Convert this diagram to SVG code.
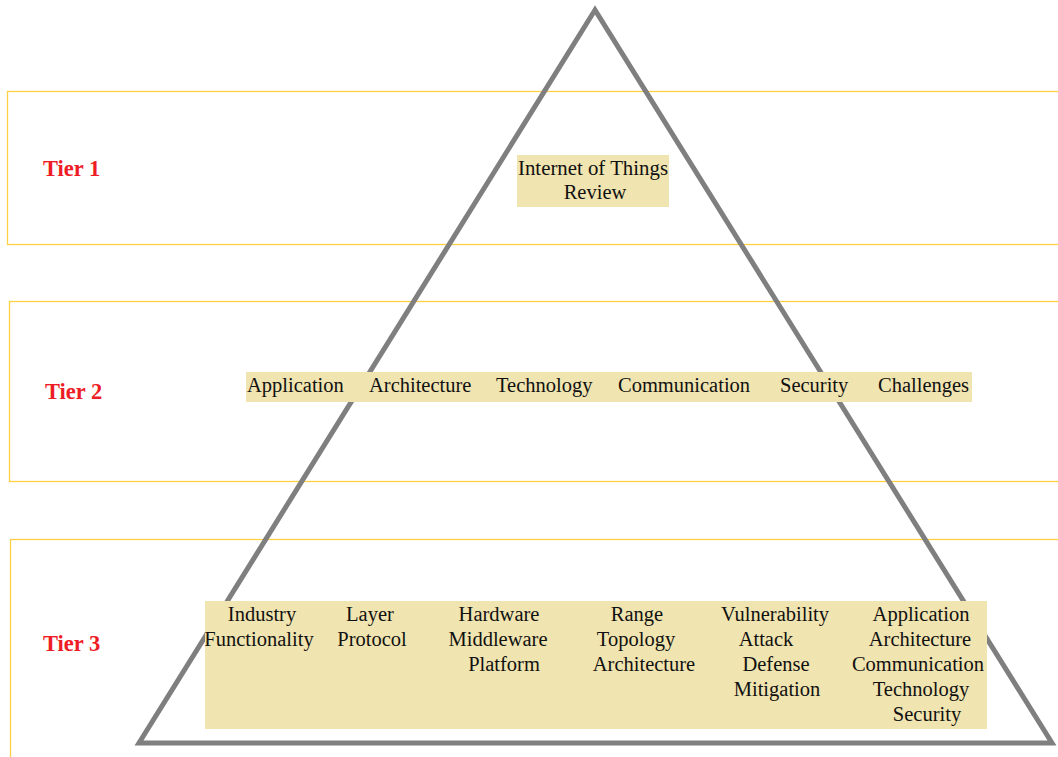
<svg xmlns="http://www.w3.org/2000/svg" width="1058" height="757" viewBox="0 0 1058 757">
<style>
.tier{fill:none;stroke:#FFD043;stroke-width:1.3}
.box{fill:#F0E4B0}
.t{font-family:"Liberation Serif","Times New Roman",serif;font-size:20.5px;fill:#111}
.c{text-anchor:middle}
.lbl{font-family:"Liberation Serif","Times New Roman",serif;font-size:22.5px;font-weight:bold;fill:#EE1C25}
</style>
<rect width="1058" height="757" fill="#fff"/>
<g id="tiers">
<rect class="tier" x="7.5" y="91.5" width="1060" height="153"/>
<rect class="tier" x="9.5" y="301.5" width="1060" height="180"/>
<rect class="tier" x="10.5" y="539.5" width="1060" height="240"/>
</g>
<g id="tier-labels">
<text class="lbl" x="43" y="176">Tier 1</text>
<text class="lbl" x="45" y="399">Tier 2</text>
<text class="lbl" x="43" y="651">Tier 3</text>
</g>
<g id="pyramid">
<polygon points="595,10 139,743 1052,743" fill="none" stroke="#7F7F7F" stroke-width="5" stroke-linejoin="miter"/>
</g>
<g id="tier1-node">
<rect class="box" x="517" y="155" width="152" height="52"/>
<text class="t c" x="593" y="175" textLength="150" lengthAdjust="spacingAndGlyphs">Internet of Things</text>
<text class="t c" x="595" y="199">Review</text>
</g>
<g id="tier2-node">
<rect class="box" x="246" y="372" width="726" height="30"/>
<text class="t" x="247" y="392">Application</text>
<text class="t" x="369" y="392">Architecture</text>
<text class="t" x="496" y="392">Technology</text>
<text class="t" x="618" y="392">Communication</text>
<text class="t" x="780" y="392">Security</text>
<text class="t" x="878" y="392">Challenges</text>
</g>
<g id="tier3-node">
<rect class="box" x="205" y="601" width="782" height="128"/>
<text class="t c" x="262" y="621">Industry</text>
<text class="t c" x="259" y="646">Functionality</text>
<text class="t c" x="370" y="621">Layer</text>
<text class="t c" x="372" y="646">Protocol</text>
<text class="t c" x="499" y="621">Hardware</text>
<text class="t c" x="498" y="646">Middleware</text>
<text class="t c" x="504" y="671">Platform</text>
<text class="t c" x="637" y="621">Range</text>
<text class="t c" x="636" y="646">Topology</text>
<text class="t c" x="644" y="671">Architecture</text>
<text class="t c" x="775" y="621">Vulnerability</text>
<text class="t c" x="766" y="646">Attack</text>
<text class="t c" x="776" y="671">Defense</text>
<text class="t c" x="777" y="696">Mitigation</text>
<text class="t c" x="921" y="621">Application</text>
<text class="t c" x="920" y="646">Architecture</text>
<text class="t c" x="918" y="671">Communication</text>
<text class="t c" x="921" y="696">Technology</text>
<text class="t c" x="927" y="721">Security</text>
</g>
<g id="connectors"></g>
</svg>
